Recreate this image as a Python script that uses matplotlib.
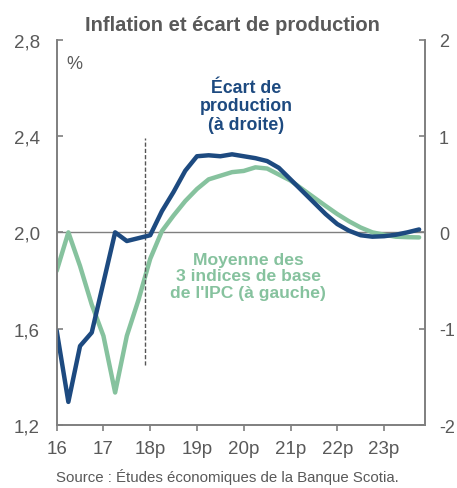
import numpy as np
import matplotlib
matplotlib.use('Agg')
import matplotlib.pyplot as plt

plt.rcParams['font.family'] = ['Liberation Sans', 'DejaVu Sans']

# quarterly, 2016Q1 .. 2023Q4
quarters = np.arange(32) / 4.0 + 2016
# core CPI average, % (left axis)
core_cpi = [1.84, 2.00, 1.86, 1.70, 1.57, 1.335, 1.57, 1.72,
            1.89, 2.005, 2.07, 2.13, 2.18, 2.22, 2.235, 2.25,
            2.255, 2.27, 2.265, 2.24, 2.215, 2.18, 2.145, 2.11,
            2.076, 2.046, 2.02, 2.0, 1.99, 1.982, 1.98, 1.979]
# output gap, % (right axis)
output_gap = [-1.02, -1.76, -1.18, -1.04, -0.52, 0.0, -0.09, -0.06,
              -0.03, 0.22, 0.42, 0.64, 0.79, 0.80, 0.79, 0.81,
              0.79, 0.77, 0.74, 0.67, 0.55, 0.43, 0.31, 0.19,
              0.086, 0.017, -0.03, -0.045, -0.04, -0.025, 0.0, 0.03]

xtick_pos = [2016, 2017, 2018, 2019, 2020, 2021, 2022, 2023]
xtick_lbl = ['16', '17', '18p', '19p', '20p', '21p', '22p', '23p']
left_ticks = [1.2, 1.6, 2.0, 2.4, 2.8]
left_lbl = ['1,2', '1,6', '2,0', '2,4', '2,8']
right_ticks = [-2, -1, 0, 1, 2]
right_lbl = ['-2', '-1', '0', '1', '2']

grey = '#595959'
spine_c = '#7f7f7f'
blue = '#1d4a80'
green = '#86c29e'

fig = plt.figure(figsize=(4.57, 4.89), dpi=100)
ax = fig.add_axes([0.124, 0.1288, 0.806, 0.788])
ax2 = ax.twinx()

ax.plot(quarters, core_cpi, color=green, lw=3.2, solid_capstyle='round')
ax2.plot(quarters, output_gap, color=blue, lw=3.2, solid_capstyle='round')

ax.axhline(2.0, color=spine_c, lw=1.0, zorder=1)
ax.vlines(2017.88, 1.45, 2.39, colors='#555555', linestyles=(0, (3, 1.5)), lw=1.0)

ax.set_xlim(2016, 2023.876)
ax.set_ylim(1.2, 2.8)
ax2.set_ylim(-2, 2)

ax.set_xticks(xtick_pos)
ax.set_xticklabels(xtick_lbl)
ax.set_yticks(left_ticks)
ax.set_yticklabels(left_lbl)
ax2.set_yticks(right_ticks)
ax2.set_yticklabels(right_lbl)

for a in (ax, ax2):
    a.spines['top'].set_visible(False)
    for s in ('left', 'right', 'bottom'):
        a.spines[s].set_color(spine_c)
        a.spines[s].set_linewidth(1.2)

ax.tick_params(axis='x', direction='out', length=4.5, width=1.2, color=spine_c,
               labelcolor=grey, labelsize=13.5, pad=6)
ax.tick_params(axis='y', direction='in', length=4.5, width=1.2, color=spine_c,
               labelcolor=grey, labelsize=13.5, pad=12)
ax2.tick_params(axis='y', direction='in', length=4.5, width=1.2, color=spine_c,
                labelcolor=grey, labelsize=13, pad=10)

fig.text(0.508, 0.948, 'Inflation et écart de production', ha='center', va='center',
         fontsize=14.5, fontweight='bold', color=grey)
ax.text(2016.38, 2.7, '%', ha='center', va='center', fontsize=13, color=grey)
ax.text(2020.05, 2.525, 'Écart de\nproduction\n(à droite)', ha='center', va='center',
        fontsize=12.8, fontweight='bold', color=blue, linespacing=1.12)
ax.text(2020.1, 1.82, "Moyenne des\n3 indices de base\nde l'IPC (à gauche)", ha='center',
        va='center', fontsize=12.6, fontweight='bold', color=green, linespacing=1.12)
fig.text(0.497, 0.008, 'Source : Études économiques de la Banque Scotia.', ha='center',
         va='bottom', fontsize=10.8, color=grey)

fig.savefig('out.png', dpi=100)
